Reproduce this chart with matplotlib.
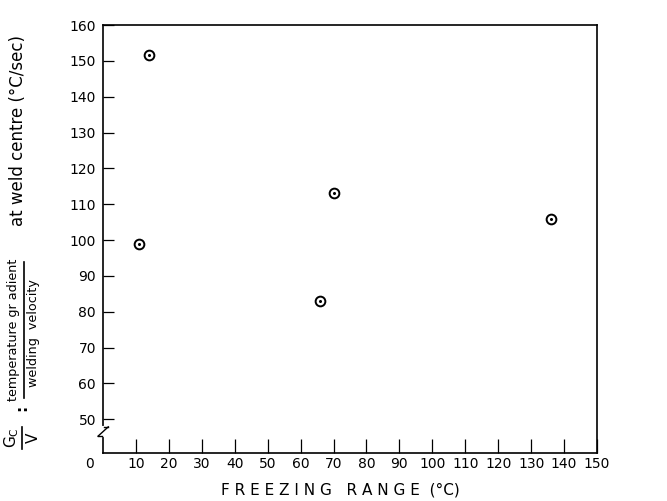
import matplotlib
matplotlib.use("Agg")
import matplotlib.pyplot as plt
from matplotlib.lines import Line2D

freezing_range = [11, 14, 66, 70, 136]
gc_over_v = [99, 151.5, 83, 113, 106]
x_ticks = list(range(10, 151, 10))
y_ticks = list(range(50, 161, 10))

plt.rcParams['font.family'] = ['DejaVu Sans']

fig = plt.figure(figsize=(6.67, 5.01), dpi=100)
ax = fig.add_axes([103/667, 1-453/501, (597-103)/667, (453-25)/501])
ax.set_xlim(0, 150)
ax.set_ylim(40.6, 160)

ax.plot(freezing_range, gc_over_v, linestyle='none', marker='o', ms=7,
        mfc='none', mec='black', mew=1.4)
ax.plot(freezing_range, gc_over_v, linestyle='none', marker='o', ms=1.2,
        mfc='black', mec='black')

ax.set_xticks(x_ticks)
ax.set_xticklabels([str(t) for t in x_ticks])
ax.set_yticks(y_ticks)
ax.set_yticklabels([str(t) for t in y_ticks])
ax.tick_params(axis='x', direction='in', length=10, width=0.9, labelsize=10, pad=3)
ax.tick_params(axis='y', direction='in', length=8, width=0.9, labelsize=10, pad=5)
for s in ax.spines.values():
    s.set_linewidth(1.2)

def fx(px):
    return px/667
def fy(py):
    return 1-py/501

# origin label
fig.text(fx(90), fy(464), "0", ha='center', va='center', fontsize=10)

# axis break on the y axis
ax.plot([0, 0], [45.6, 47.6], color='white', lw=3, clip_on=False, zorder=5)
ax.plot([-1.5, 1.6], [45.3, 47.9], color='black', lw=1.0, clip_on=False, zorder=6)
ax.plot([-1.5, -0.3], [45.3, 45.3], color='black', lw=1.0, clip_on=False, zorder=6)
ax.plot([0.3, 1.6], [47.9, 47.9], color='black', lw=1.0, clip_on=False, zorder=6)

# x label
fig.text(340/667, 1-490/501, "F R E E Z I N G   R A N G E  (°C)", ha='center',
         va='center', fontsize=11)

# y label composed of parts
fig.text(fx(12), fy(438), r"G$_\mathrm{C}$", rotation=90, ha='center', va='center', fontsize=11)
fig.text(fx(33), fy(438), "V", rotation=90, ha='center', va='center', fontsize=11)
fig.add_artist(Line2D([fx(22), fx(22)], [fy(427), fy(449)], color='black', lw=1.2))
fig.text(fx(22), fy(408), ":", rotation=90, ha='center', va='center', fontsize=11, fontweight='bold')
fig.text(fx(14), fy(330), "temperature gr adient", rotation=90, ha='center', va='center', fontsize=9.2)
fig.text(fx(34), fy(333), "welding  velocity", rotation=90, ha='center', va='center', fontsize=9.2)
fig.add_artist(Line2D([fx(24), fx(24)], [fy(262), fy(398)], color='black', lw=1.2))
fig.text(fx(18), fy(130), "at weld centre (°C/sec)", rotation=90, ha='center', va='center', fontsize=12)

fig.savefig("out.png", dpi=100)
